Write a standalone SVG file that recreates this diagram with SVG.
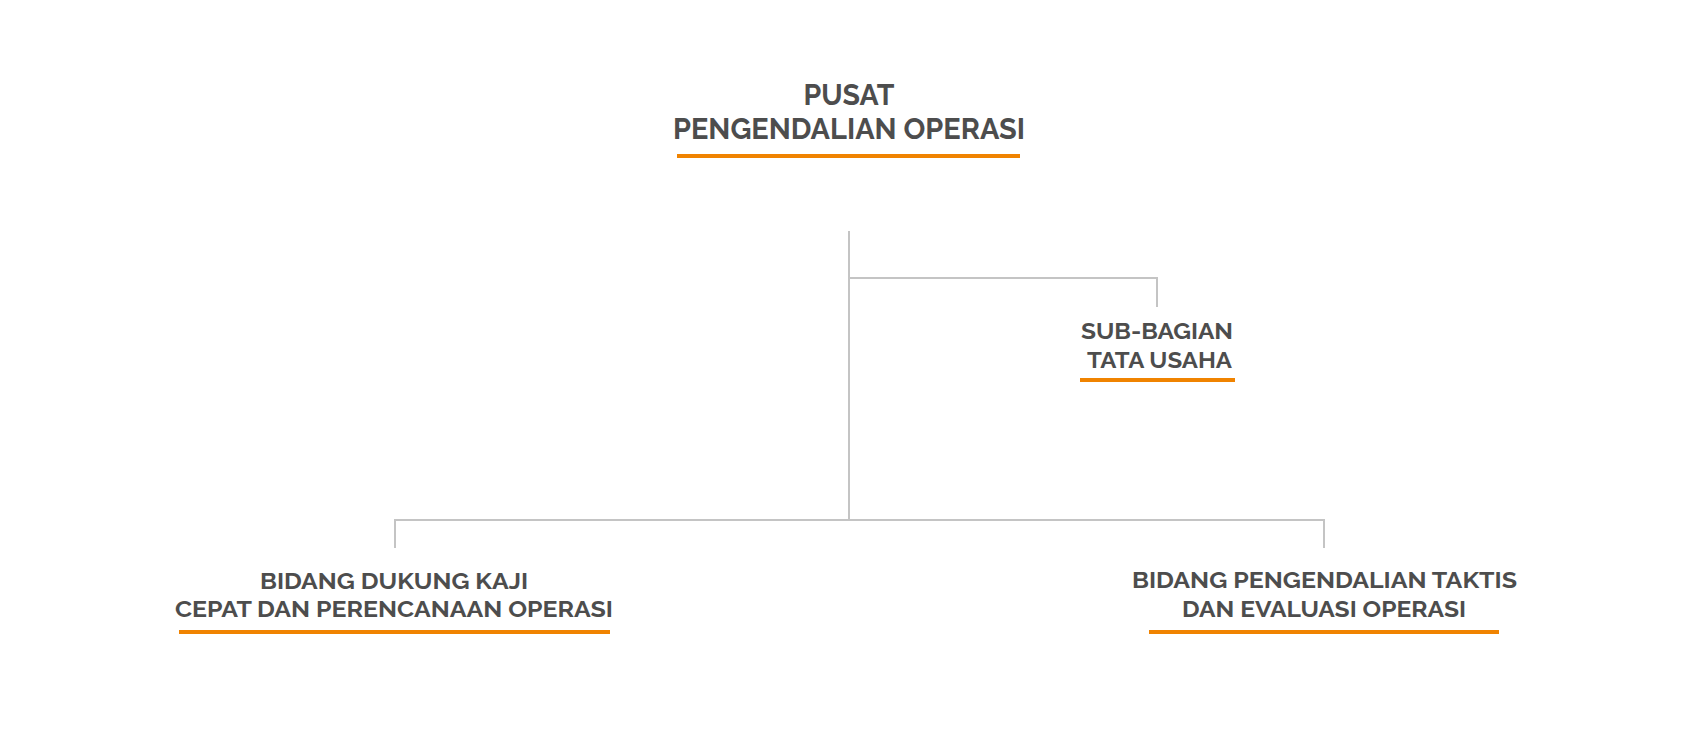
<svg xmlns="http://www.w3.org/2000/svg" width="1708" height="740" viewBox="0 0 1708 740">
<style>
.t{font-family:"Raleway","Montserrat","Liberation Sans",Arial,sans-serif;font-weight:bold;fill:#4d4d4d;text-anchor:middle}
.big{font-size:29px}
.sm{font-size:22.5px}
.ul{fill:#f08300}
.c{stroke:#c4c4c4;stroke-width:2;fill:none}
</style>
<rect width="1708" height="740" fill="#ffffff"/>
<g id="connectors">
<path class="c" d="M849 231 V520"/>
<path class="c" d="M849 278 H1157 V307"/>
<path class="c" d="M395 548 V520 H1324 V548"/>
</g>
<g id="pusat">
<text class="t big" x="849" y="105" textLength="91" lengthAdjust="spacingAndGlyphs">PUSAT</text>
<text class="t big" x="849" y="139" textLength="352" lengthAdjust="spacingAndGlyphs">PENGENDALIAN OPERASI</text>
<rect class="ul" x="677" y="154" width="343" height="4"/>
</g>
<g id="subbagian">
<text class="t sm" x="1157" y="339" textLength="152" lengthAdjust="spacingAndGlyphs">SUB-BAGIAN</text>
<text class="t sm" x="1159.5" y="368" textLength="145" lengthAdjust="spacingAndGlyphs">TATA USAHA</text>
<rect class="ul" x="1080" y="378" width="155" height="4"/>
</g>
<g id="bidang-dukung">
<text class="t sm" x="394" y="589" textLength="268" lengthAdjust="spacingAndGlyphs">BIDANG DUKUNG KAJI</text>
<text class="t sm" x="394" y="617" textLength="438" lengthAdjust="spacingAndGlyphs">CEPAT DAN PERENCANAAN OPERASI</text>
<rect class="ul" x="179" y="630" width="431" height="4"/>
</g>
<g id="bidang-pengendalian">
<text class="t sm" x="1324.5" y="588" textLength="385" lengthAdjust="spacingAndGlyphs">BIDANG PENGENDALIAN TAKTIS</text>
<text class="t sm" x="1324" y="617" textLength="284" lengthAdjust="spacingAndGlyphs">DAN EVALUASI OPERASI</text>
<rect class="ul" x="1149" y="630" width="350" height="4"/>
</g>
</svg>
